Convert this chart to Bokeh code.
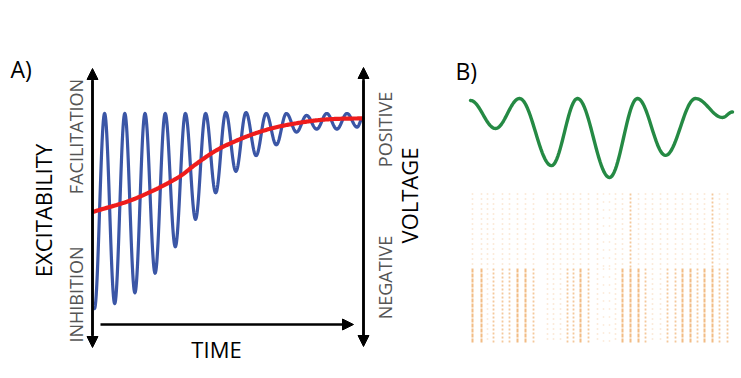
import numpy as np
from bokeh.plotting import figure
from bokeh.models import Range1d, Arrow, NormalHead, Label
from bokeh.embed import file_html
from bokeh.resources import INLINE

# ---------------- data ----------------
# Panel A: oscillation extrema (time in cycles, excitability in normalised units)
blue_t = [0, 0.5, 1, 1.5, 2, 2.5, 3, 3.5, 4, 4.5, 5, 5.5, 6, 6.5, 7, 7.5, 8, 8.5,
          9, 9.5, 10, 10.5, 11, 11.5, 12, 12.5, 13, 13.27]
blue_v = [-1.0, 0.99, -0.95, 0.99, -0.84, 0.99, -0.64, 0.99, -0.37, 0.99, -0.09, 0.99,
          0.18, 1.0, 0.40, 1.0, 0.56, 0.99, 0.67, 0.99, 0.80, 0.97, 0.83, 0.99, 0.83,
          0.99, 0.85, 0.94]
# Panel A: mean excitability (red)
red_t = [0, 2, 4, 5, 6, 7, 8, 9, 10, 11, 12, 13.27]
red_v = [-0.01, 0.12, 0.32, 0.47, 0.61, 0.71, 0.79, 0.85, 0.89, 0.92, 0.935, 0.94]

# Panel B: LFP trace extrema (ms, amplitude)
green_ms = [0, 50, 98, 162, 214, 278, 334, 390, 450, 504, 524]
green_v = [0.95, 0.24, 1.0, -0.70, 1.0, -1.0, 1.0, -0.44, 1.0, 0.52, 0.66]

# Panel B: raster columns (spike time in ms) and firing density (0 sparse .. 3 dense)
raster_ms = [4, 22, 34, 46, 64, 78, 94, 110, 126, 154, 166, 180, 194, 206, 220, 236,
             254, 266, 278, 290, 304, 320, 336, 350, 364, 380, 394, 410, 424, 440,
             454, 468, 484, 498, 514]
raster_top = [1, 1, 1, 1, 1, 1, 1, 1, 1, 1, 1, 1, 1, 1, 1, 1,
              1, 0, 0, 1, 1, 2, 1, 1, 1, 1, 1, 1, 1, 1, 1, 1, 2, 1, 1]
raster_bottom = [3, 3, 1, 2, 2, 2, 3, 3, 2, 1, 1, 1, 2, 2, 3, 2,
                 1, 0, 0, 1, 3, 3, 3, 2, 1, 1, 2, 2, 3, 3, 2, 3, 3, 2, 2]
n_neurons = 60
split_neuron = 30


# ---------------- helpers for smooth drawing ----------------
def cos_path(ts, vs, n=24):
    xs, ys = [], []
    for i in range(len(ts) - 1):
        s = np.linspace(0, 1, n, endpoint=False)
        xs.extend(ts[i] + (ts[i + 1] - ts[i]) * s)
        ys.extend(vs[i] + (vs[i + 1] - vs[i]) * (1 - np.cos(np.pi * s)) / 2)
    xs.append(ts[-1]); ys.append(vs[-1])
    return xs, ys


def catmull(ts, vs, n=20):
    P = np.array(list(zip(ts, vs)), dtype=float)
    P = np.vstack([P[0] - (P[1] - P[0]), P, P[-1] + (P[-1] - P[-2])])
    out = []
    for i in range(1, len(P) - 2):
        p0, p1, p2, p3 = P[i - 1], P[i], P[i + 1], P[i + 2]
        for s in np.linspace(0, 1, n, endpoint=False):
            out.append(0.5 * ((2 * p1) + (-p0 + p2) * s + (2 * p0 - 5 * p1 + 4 * p2 - p3) * s ** 2
                              + (-p0 + 3 * p1 - 3 * p2 + p3) * s ** 3))
    out.append(P[-2])
    out = np.array(out)
    return out[:, 0], out[:, 1]


W, H = 741, 378
p = figure(width=W, height=H, x_range=Range1d(0, W), y_range=Range1d(H, 0),
           output_backend="svg", toolbar_location=None, min_border=0)
p.axis.visible = False
p.grid.visible = False
p.outline_line_color = None
p.background_fill_color = "white"
p.border_fill_color = "white"

# layout anchors (screen pixels) -> data scales of each panel
A_t0, A_per = 94.0, 20.2
A_v0, A_vs = 210.0, 98.0
p.extra_x_ranges["tA"] = Range1d((0 - A_t0) / A_per, (W - A_t0) / A_per)
p.extra_y_ranges["vA"] = Range1d((A_v0 - H) / A_vs, A_v0 / A_vs)
B_t0, B_ms_per_px = 470.0, 2.0
p.extra_x_ranges["tB"] = Range1d((0 - B_t0) * B_ms_per_px, (W - B_t0) * B_ms_per_px)
B_g0, B_gs = 137.5, 39.5
p.extra_y_ranges["gB"] = Range1d((B_g0 - H) / B_gs, B_g0 / B_gs)
B_n0, B_ns = 193.0, 2.5
p.extra_y_ranges["nB"] = Range1d((H - B_n0) / B_ns, (0 - B_n0) / B_ns)

# ---------------- panel A ----------------
bx, by = cos_path(blue_t, blue_v)
p.line(bx, by, x_range_name="tA", y_range_name="vA", line_color="#3b56a6",
       line_width=3.2, line_join="round", line_cap="round")
rx, ry = catmull(red_t, red_v)
p.line(rx, ry, x_range_name="tA", y_range_name="vA", line_color="#ee1c1c",
       line_width=4.2, line_cap="round")


def head():
    return NormalHead(size=11, fill_color="black", line_color="black", line_width=1)


p.add_layout(Arrow(x_start=92, y_start=335, x_end=92, y_end=68, start=None, end=head(),
                   line_width=2.5, line_color="black"))
p.add_layout(Arrow(x_start=92, y_start=80, x_end=92, y_end=347, start=None, end=head(),
                   line_width=2.5, line_color="black"))
p.add_layout(Arrow(x_start=100, y_start=324, x_end=353, y_end=324, end=head(),
                   line_width=2.5, line_color="black"))
p.add_layout(Arrow(x_start=363, y_start=335, x_end=363, y_end=67, end=head(),
                   line_width=2.5, line_color="black"))
p.add_layout(Arrow(x_start=363, y_start=80, x_end=363, y_end=346, end=head(),
                   line_width=2.5, line_color="black"))

FONT = "Open Sans"
V = np.pi / 2


def label(x, y, text, size, color="black", angle=0.0, align="center"):
    p.add_layout(Label(x=x, y=y, text=text, angle=angle, text_align=align,
                       text_baseline="middle", text_font=FONT,
                       text_font_size=f"{size}px", text_color=color))


label(10, 68, "A)", 23, align="left")
label(42, 210, "EXCITABILITY", 22, angle=V)
label(75, 136, "FACILITATION", 18, color="#555555", angle=V)
label(75, 294, "INHIBITION", 18, color="#555555", angle=V)
label(216, 348, "TIME", 22)
label(384, 129, "POSITIVE", 18, color="#555555", angle=V)
label(384, 277, "NEGATIVE", 18, color="#555555", angle=V)
label(408, 195, "VOLTAGE", 22, angle=V)

# ---------------- panel B ----------------
label(455, 70, "B)", 23, align="left")
gx, gy = cos_path(green_ms, green_v)
p.line(gx, gy, x_range_name="tB", y_range_name="gB", line_color="#258a44",
       line_width=3.4, line_join="round", line_cap="round")

styles = {0: ("1 7", 0.45, 1.5), 1: ("1 4", 0.5, 1.6), 2: ("2 2", 0.7, 1.8), 3: ("4 1", 0.85, 2.0)}
for level, (dash, alpha, lw) in styles.items():
    for dens, y0, y1 in ((raster_top, 0, split_neuron), (raster_bottom, split_neuron, n_neurons)):
        xs = [t for t, d in zip(raster_ms, dens) if d == level]
        if not xs:
            continue
        p.segment(x0=xs, y0=[y0] * len(xs), x1=xs, y1=[y1] * len(xs),
                  x_range_name="tB", y_range_name="nB", line_color="#f0b070",
                  line_alpha=alpha, line_width=lw, line_dash=dash)

open("out.html", "w").write(file_html(p, INLINE))
